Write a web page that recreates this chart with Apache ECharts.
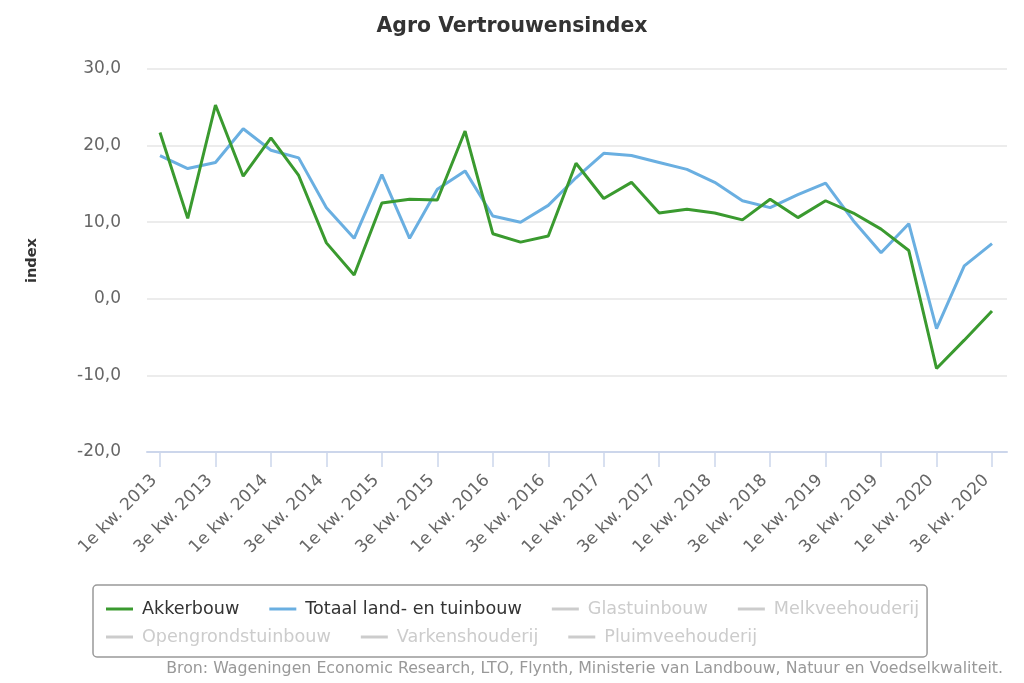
<!DOCTYPE html>
<html>
<head>
<meta charset="utf-8">
<script src="https://cdn.jsdelivr.net/npm/echarts@6/dist/echarts.min.js"></script>
<style>html,body{margin:0;padding:0;background:#fff;}#c{width:1024px;height:683px;}</style>
</head>
<body>
<div id="c"></div>
<script>
var categories = ["1e kw. 2013","2e kw. 2013","3e kw. 2013","4e kw. 2013",
  "1e kw. 2014","2e kw. 2014","3e kw. 2014","4e kw. 2014",
  "1e kw. 2015","2e kw. 2015","3e kw. 2015","4e kw. 2015",
  "1e kw. 2016","2e kw. 2016","3e kw. 2016","4e kw. 2016",
  "1e kw. 2017","2e kw. 2017","3e kw. 2017","4e kw. 2017",
  "1e kw. 2018","2e kw. 2018","3e kw. 2018","4e kw. 2018",
  "1e kw. 2019","2e kw. 2019","3e kw. 2019","4e kw. 2019",
  "1e kw. 2020","2e kw. 2020","3e kw. 2020"];
var akkerbouw = [21.7, 10.5, 25.3, 16.0, 21.0, 16.1, 7.3, 3.1, 12.5, 13.0, 12.9, 21.9, 8.5, 7.4, 8.2, 17.7,
  13.1, 15.2, 11.2, 11.7, 11.2, 10.3, 13.0, 10.6, 12.8, 11.2, 9.1, 6.3, -9.1, -5.4, -1.6];
var totaal = [18.7, 17.0, 17.8, 22.2, 19.4, 18.4, 11.9, 7.9, 16.2, 7.9, 14.3, 16.7, 10.8, 10.0, 12.2, 15.8,
  19.0, 18.7, 17.8, 16.9, 15.2, 12.8, 11.9, 13.6, 15.1, 10.2, 6.0, 9.8, -3.9, 4.3, 7.2];
var legendRow1 = ["Akkerbouw", "Totaal land- en tuinbouw", "Glastuinbouw", "Melkveehouderij"];
var legendRow2 = ["Opengrondstuinbouw", "Varkenshouderij", "Pluimveehouderij"];
var hiddenSeries = ["Glastuinbouw", "Melkveehouderij", "Opengrondstuinbouw", "Varkenshouderij", "Pluimveehouderij"];
var yMin = -20, yMax = 30, yStep = 10;
var titleText = "Agro Vertrouwensindex";
var yName = "index";
var sourceText = "Bron: Wageningen Economic Research, LTO, Flynth, Ministerie van Landbouw, Natuur en Voedselkwaliteit.";

var FONT = "DejaVu Sans";
var selected = {};
hiddenSeries.forEach(function (n) { selected[n] = false; });

var legendCommon = {
  orient: 'horizontal',
  icon: 'rect',
  itemWidth: 27,
  itemHeight: 3,
  itemGap: 30,
  inactiveColor: '#cccccc',
  selected: selected,
  selectedMode: true,
  textStyle: { fontFamily: FONT, fontSize: 17.6, color: '#333333', padding: [0, 0, 0, 4] }
};

var series = [
  { name: "Akkerbouw", type: 'line', xAxisIndex: 1, yAxisIndex: 1, data: akkerbouw,
    symbol: 'none', color: '#3a9a2f', lineStyle: { width: 3, color: '#3a9a2f' }, z: 4 },
  { name: "Totaal land- en tuinbouw", type: 'line', xAxisIndex: 1, yAxisIndex: 1, data: totaal,
    symbol: 'none', color: '#6aafe1', lineStyle: { width: 3, color: '#6aafe1' }, z: 3 }
];
hiddenSeries.forEach(function (n) {
  series.push({ name: n, type: 'line', xAxisIndex: 1, yAxisIndex: 1, data: [], symbol: 'none', color: '#cccccc' });
});

var chart = echarts.init(document.getElementById('c'), null, { renderer: 'canvas' });
chart.setOption({
  animation: false,
  backgroundColor: '#ffffff',
  textStyle: { fontFamily: FONT },
  title: [
    { text: titleText, left: 'center', top: 12,
      textStyle: { fontFamily: FONT, fontSize: 20.4, fontWeight: 'bold', color: '#333333' } },
    { text: sourceText, right: 16, top: 656,
      textStyle: { fontFamily: FONT, fontSize: 15.8, fontWeight: 'normal', color: '#999999' } }
  ],
  legend: [
    Object.assign({}, legendCommon, {
      data: legendRow1, left: 93, top: 585, padding: [15, 8, 39, 13],
      borderColor: '#999999', borderWidth: 1.5, borderRadius: 4
    }),
    Object.assign({}, legendCommon, {
      data: legendRow2, left: 106, top: 628, padding: 0
    })
  ],
  grid: [
    { left: 147, right: 17, top: 69, bottom: 231, containLabel: false },
    { left: 160, right: 32, top: 69, bottom: 231, containLabel: false }
  ],
  xAxis: [
    { type: 'value', gridIndex: 0, min: 0, max: 1,
      axisLine: { show: true, onZero: false, lineStyle: { color: '#ccd6eb', width: 2 } },
      axisTick: { show: false }, axisLabel: { show: false }, splitLine: { show: false } },
    { type: 'category', gridIndex: 1, data: categories, boundaryGap: false,
      axisLine: { show: false, onZero: false },
      axisTick: { show: true, interval: 1, length: 15, lineStyle: { color: '#ccd6eb', width: 1.5 } },
      axisLabel: { interval: 1, rotate: 45, margin: 20, padding: [0, 8, 0, 0],
        fontFamily: FONT, fontSize: 17, color: '#666666' },
      splitLine: { show: false } }
  ],
  yAxis: [
    { type: 'value', gridIndex: 0, min: yMin, max: yMax, interval: yStep,
      name: yName, nameLocation: 'middle', nameGap: 107, nameRotate: 90,
      nameTextStyle: { fontFamily: FONT, fontSize: 14.5, fontWeight: 'bold', color: '#333333' },
      axisLine: { show: false }, axisTick: { show: false },
      axisLabel: { margin: 26, fontFamily: FONT, fontSize: 17, color: '#666666',
        formatter: function (v) { return v.toFixed(1).replace('.', ','); } },
      splitLine: { show: true, lineStyle: { color: '#e6e6e6', width: 1.5 } } },
    { type: 'value', gridIndex: 1, min: yMin, max: yMax, interval: yStep,
      axisLine: { show: false }, axisTick: { show: false }, axisLabel: { show: false },
      splitLine: { show: false } }
  ],
  series: series
});
</script>
</body>
</html>
